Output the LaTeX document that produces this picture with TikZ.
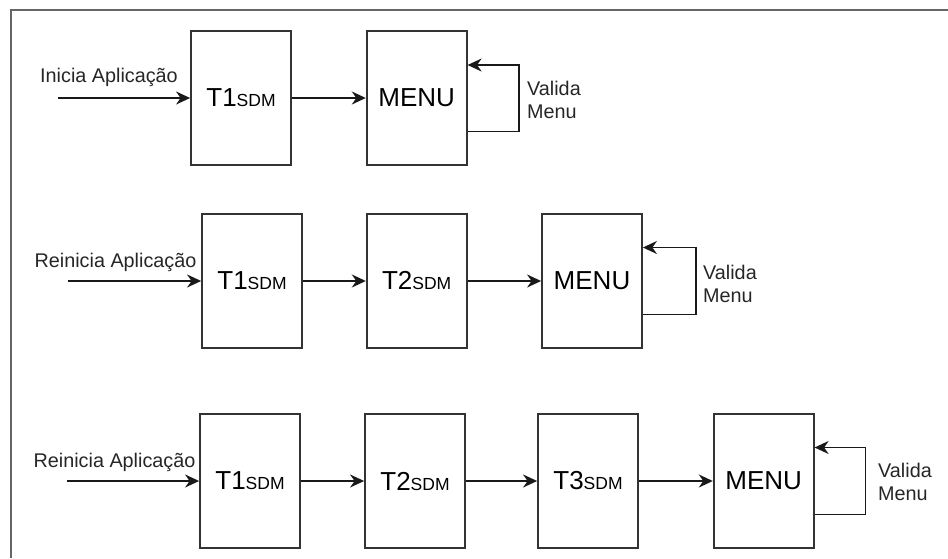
\documentclass[tikz,border=0pt]{standalone}
\usepackage{fontspec}
\setmainfont{Liberation Sans}
\usetikzlibrary{arrows.meta,calc}
\begin{document}
\begin{tikzpicture}[x=1pt,y=-1pt,
  stage/.style={draw=black!80,line width=1.8pt,minimum width=100pt,minimum height=134pt,inner sep=0pt,
    font=\fontsize{26}{30}\selectfont},
  flow/.style={draw=black!90,line width=1.6pt,-{Stealth[length=14pt,width=13pt,inset=4.5pt]}},
  lbl/.style={inner sep=0pt,font=\fontsize{19.8}{23}\selectfont,text=black!85},
  note/.style={lbl,align=left,anchor=west}]
\useasboundingbox (0,0) rectangle (948,558);
\newcommand{\stagename}[1]{#1{\fontsize{17.5}{20}\selectfont SDM}}
% outer frame
\draw[black!60,line width=2.2pt] (11,558) -- (11,10) -- (948,10);

% first sequence
\node[stage] (a1) at (241,98) {\stagename{T1}};
\node[stage] (am) at (416.7,98) {MENU};
\coordinate (ain) at (58,98);
\draw[flow] (ain) -- (a1);
\draw[flow] (a1) -- (am);
\node[lbl] (ainl) at (109,77) {Inicia Aplicação};
\draw[flow] ($(am.east)+(0,33.5)$) -- ++(51.5,0) |- ($(am.east)+(0,-33)$);
\node[note] (anote) at (527,100) {Valida\\Menu};

% second sequence
\node[stage] (b1) at (252,281) {\stagename{T1}};
\node[stage] (b2) at (416.7,281) {\stagename{T2}};
\node[stage] (bm) at (592,281) {MENU};
\coordinate (bin) at (68,281);
\draw[flow] (bin) -- (b1);
\draw[flow] (b1) -- (b2);
\draw[flow] (b2) -- (bm);
\node[lbl] (binl) at (115.5,262) {Reinicia Aplicação};
\draw[flow] ($(bm.east)+(0,33.5)$) -- ++(53,0) |- ($(bm.east)+(0,-33.5)$);
\node[note] (bnote) at (703,284) {Valida\\Menu};

% third sequence
\node[stage] (c1) at (250,481) {\stagename{T1}};
\node[stage] (c2) at (415,481) {\stagename{T2}};
\node[stage] (c3) at (588,481) {\stagename{T3}};
\node[stage] (cm) at (763.7,481) {MENU};
\coordinate (cin) at (67,481);
\draw[flow] (cin) -- (c1);
\draw[flow] (c1) -- (c2);
\draw[flow] (c2) -- (c3);
\draw[flow] (c3) -- (cm);
\node[lbl] (cinl) at (114.5,462) {Reinicia Aplicação};
\draw[flow] ($(cm.east)+(0,33.5)$) -- ++(51,0) |- ($(cm.east)+(0,-33.5)$);
\node[note] (cnote) at (878,482) {Valida\\Menu};
\end{tikzpicture}
\end{document}
